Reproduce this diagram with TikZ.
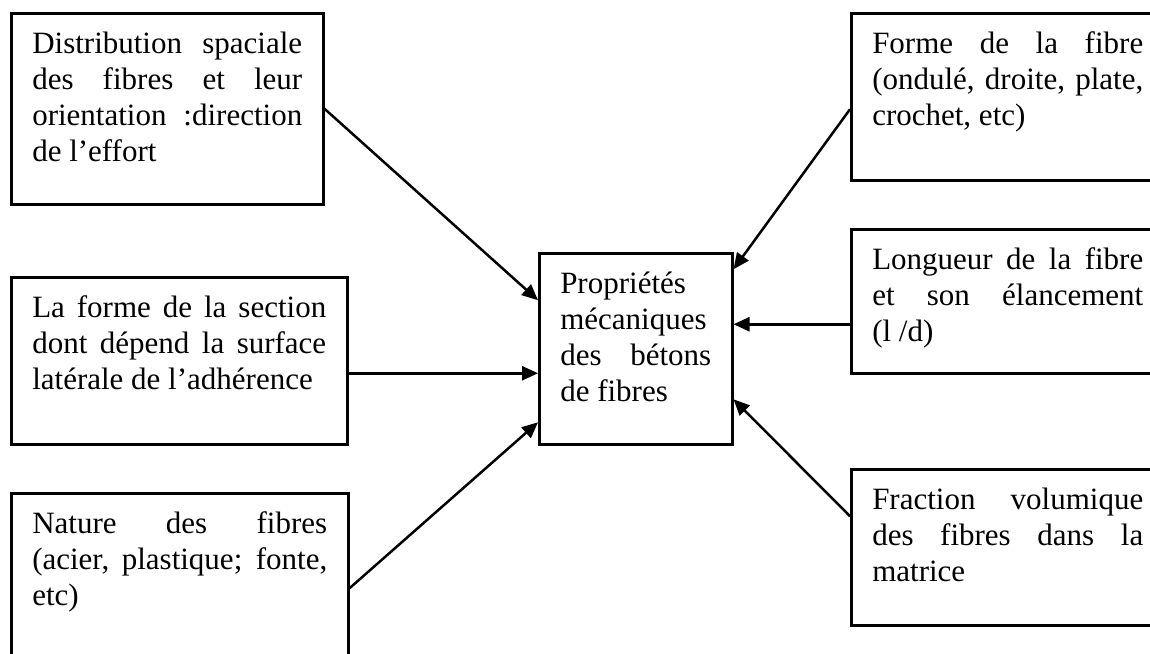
\documentclass[tikz,border=0pt]{standalone}
\usepackage{fontspec}
\setmainfont{Liberation Serif}[Ligatures=NoCommon]
\usetikzlibrary{arrows.meta}

\tikzset{
  factor/.style={draw, line width=2.5pt, anchor=north west, inner xsep=21pt, inner ysep=0pt,
    align=justify, text height=40pt, font=\fontsize{31}{36}\selectfont},
  link/.style={-{Triangle[length=16pt,width=14pt]}, line width=2.5pt}
}

\begin{document}
\fontsize{31}{36}\selectfont
\hyphenpenalty=10000 \exhyphenpenalty=10000 \tolerance=10000
\begin{tikzpicture}[x=1pt, y=-1pt]
        \useasboundingbox (0,0) rectangle (1150,653);

        % Centre box
        \node[factor, text width=151pt, text depth=151pt] (prop) at (538,252)
          {Propriétés\linebreak mécaniques\linebreak des bétons\linebreak de fibres};

        % Left boxes
        \node[factor, text width=270pt, text depth=151pt] (dist) at (10,12)
          {Distribution spaciale\linebreak des fibres et leur\linebreak orientation :direction\linebreak de l’effort};
        \node[factor, text width=294pt, text depth=127pt] (sect) at (10,276)
          {La forme de la section\linebreak dont dépend la surface\linebreak latérale de l’adhérence};
        \node[factor, text width=295pt, text depth=150pt] (nat) at (10,492)
          {Nature des fibres\linebreak (acier, plastique; fonte,\linebreak etc)};

        % Right boxes
        \node[factor, text width=271pt, text depth=127pt] (form) at (850,12)
          {Forme de la fibre\linebreak (ondulé, droite, plate,\linebreak crochet, etc)};
        \node[factor, text width=271pt, text depth=104pt] (long) at (850,228)
          {Longueur de la fibre\linebreak et son élancement\linebreak (l /d)};
        \node[factor, text width=271pt, text depth=116pt] (frac) at (850,468)
          {Fraction volumique\linebreak des fibres dans la\linebreak matrice};

        % Arrows into the centre box
        \draw[link] (dist.east) -- ([yshift=48.5pt]prop.west);
        \draw[link] ([yshift=-12.5pt]sect.east) -- ([yshift=-24.5pt]prop.west);
        \draw[link] (nat.east) -- ([yshift=-73.5pt]prop.west);
        \draw[link] ([yshift=-12.5pt]form.west) -- ([yshift=79.5pt]prop.east);
        \draw[link] ([yshift=-23pt]long.west) -- ([yshift=24.5pt]prop.east);
        \draw[link] ([yshift=31pt]frac.west) -- ([yshift=-50.5pt]prop.east);
    \end{tikzpicture}
\end{document}
